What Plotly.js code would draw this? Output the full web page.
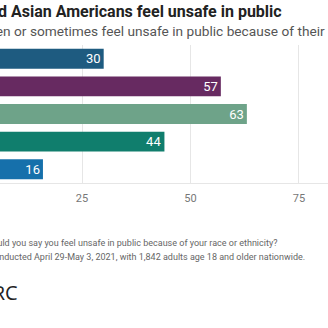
<!DOCTYPE html>
<html>
<head>
<meta charset="utf-8">
<script src="https://cdn.plot.ly/plotly-3.0.1.min.js"></script>
<style>html,body{margin:0;padding:0;background:#fff;}#chart{width:328px;height:328px;}</style>
</head>
<body>
<div id="chart"></div>
<script>
var categories = ["All adults", "Black Americans", "Asian Americans", "Hispanic Americans", "White Americans"];
var values = [30, 57, 63, 44, 16];
var barColors = ["#1e5b80", "#672a61", "#6ea389", "#107e6d", "#1670ab"];
var tickVals = [0, 25, 50, 75, 100];
var titleText = "Many Black and Asian Americans feel unsafe in public";
var subtitleText = "% who say they often or sometimes feel unsafe in public because of their race or ethnicity";
var questionText = "Question: How often, if ever, would you say you feel unsafe in public because of your race or ethnicity?";
var sourceText = "Source: AP-NORC poll conducted April 29-May 3, 2021, with 1,842 adults age 18 and older nationwide.";
var logoText = "AP-NORC";

var font = "Roboto, 'Open Sans', sans-serif";
var trace = {
  type: "bar",
  orientation: "h",
  y: categories,
  x: values,
  text: values.map(String),
  textposition: "inside",
  insidetextanchor: "end",
  textangle: 0,
  constraintext: "none",
  textfont: {family: font, size: 13, color: "#ffffff"},
  marker: {color: barColors},
  hoverinfo: "none",
  cliponaxis: true
};
var layout = {
  width: 328, height: 328,
  margin: {l: 0, r: 0, t: 45, b: 145, pad: 0},
  paper_bgcolor: "#ffffff", plot_bgcolor: "#ffffff",
  showlegend: false,
  bargap: 0.28,
  font: {family: font},
  xaxis: {
    range: [6.1, 81.7],
    tickvals: tickVals,
    showgrid: true, gridcolor: "#e6e6e6", gridwidth: 1,
    zeroline: false,
    showline: true, linecolor: "#e6e6e6", linewidth: 1,
    ticks: "",
    tickfont: {family: font, size: 11, color: "#777777"},
    ticklabelstandoff: 5,
    fixedrange: true
  },
  yaxis: {
    autorange: "reversed",
    showticklabels: false,
    showgrid: false, zeroline: false, showline: false, ticks: "",
    fixedrange: true
  },
  annotations: [
    {text: "<b>" + titleText + "</b>", xref: "paper", yref: "paper", x: 284/328, xanchor: "right", y: 1.246, yanchor: "middle", showarrow: false, font: {family: font, size: 16, color: "#222222"}},
    {text: subtitleText, xref: "paper", yref: "paper", x: 428/328, xanchor: "right", y: 1.101, yanchor: "middle", showarrow: false, font: {family: font, size: 13.7, color: "#555555"}},
    {text: questionText, xref: "paper", yref: "paper", x: 279/328, xanchor: "right", y: -0.435, yanchor: "middle", showarrow: false, font: {family: font, size: 9, color: "#666666"}},
    {text: sourceText, xref: "paper", yref: "paper", x: 307/328, xanchor: "right", y: -0.536, yanchor: "middle", showarrow: false, font: {family: font, size: 9, color: "#666666"}},
    {text: logoText, xref: "paper", yref: "paper", x: 20/328, xanchor: "right", y: -0.79, yanchor: "middle", showarrow: false, font: {family: "'Open Sans', sans-serif", size: 20, color: "#222222"}}
  ]
};
Plotly.newPlot("chart", [trace], layout, {displayModeBar: false, staticPlot: true});
</script>
</body>
</html>
